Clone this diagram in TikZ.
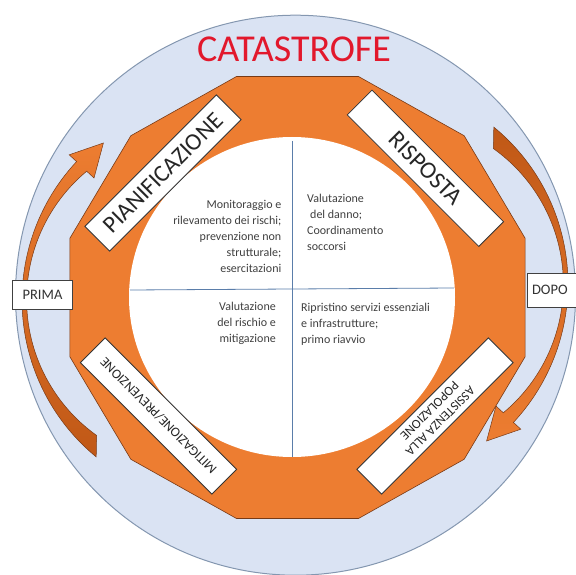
\documentclass[tikz,border=0pt]{standalone}
\usepackage{fontspec}
\setmainfont{Carlito}
\definecolor{bluefill}{RGB}{218,227,243}
\definecolor{blueline}{RGB}{132,151,176}
\definecolor{orangefill}{RGB}{237,125,49}
\definecolor{orangedark}{RGB}{192,88,22}
\definecolor{orangeline}{RGB}{120,58,22}
\definecolor{divline}{RGB}{90,125,170}
\definecolor{txtgray}{RGB}{64,64,64}
\definecolor{catred}{RGB}{226,24,44}
\tikzset{
  labelbox/.style={draw=black!80, fill=white, line width=0.8pt, minimum width=186pt,
    minimum height=35pt, inner sep=0pt, text=black!85, align=center},
  quadtext/.style={font=\fontsize{12}{16}\selectfont, text=txtgray, inner sep=0pt},
  sidebox/.style={draw=black!75, fill=white, line width=0.7pt, minimum height=29pt,
    inner sep=0pt, text=black!80, font=\fontsize{14.5}{17}\selectfont},
  arrowshape/.style={draw=orangeline, line width=0.5pt}
}
\begin{document}
\begin{tikzpicture}[x=1pt,y=1pt]
\useasboundingbox (0,0) rectangle (576,-575);
\clip (0,0) rectangle (576,-575);
% big circle
\draw[blueline, fill=bluefill, line width=1pt] (295.5,-295.2) circle (280);
% left curved arrow (PRIMA)
\shade[arrowshape, top color=orangefill, middle color=orangefill, bottom color=orangedark]
  (96.2,-456.9) arc[start angle=230.6, end angle=137, radius=203]
  -- (69.2,-154.8) -- (103.4,-143.0) -- (94.0,-178.0) -- (86.7,-171.2)
  arc[start angle=129.8, end angle=234.5, radius=167] -- cycle;
% right curved arrow (DOPO)
\shade[arrowshape, top color=orangedark, middle color=orangefill, bottom color=orangefill]
  (493.8,-127.1) arc[start angle=50.6, end angle=-43, radius=203]
  -- (520.8,-429.2) -- (486.6,-441.0) -- (496.0,-406.0) -- (503.3,-412.8)
  arc[start angle=-50.2, end angle=54.5, radius=167] -- cycle;
% orange dodecagon
\begin{scope}[shift={(297.5,-297.5)}, xscale=1.03]
\draw[fill=orangefill, draw=orangeline, line width=0.6pt]
  (15:228.8) \foreach \a in {45,75,...,345}{ -- (\a:228.8)} -- cycle;
\end{scope}
% white inner circle
\fill[white] (292,-297) ellipse [x radius=163, y radius=160];
% dividers
\draw[divline, line width=0.8pt] (292,-141) -- (292,-457);
\draw[divline, line width=0.8pt] (130,-290) -- (454,-288);
% quadrant texts
\node[quadtext, align=right, anchor=north east] (tl) at (281.5,-200)
  {Monitoraggio e\\rilevamento dei rischi;\\prevenzione non\\strutturale;\\esercitazioni};
\node[quadtext, align=left, anchor=north west] (tr) at (307,-194)
  {Valutazione\\\hspace*{3pt}del danno;\\Coordinamento\\soccorsi};
\node[quadtext, align=right, anchor=north east] (bl) at (276,-302)
  {Valutazione\\del rischio e\\mitigazione};
\node[quadtext, align=left, anchor=north west] (br) at (301,-302.5)
  {Ripristino servizi essenziali\\e infrastrutture;\\primo riavvio};
% label boxes
\node[labelbox, rotate=45, font=\fontsize{24}{28}\selectfont] (pian) at (163,-173) {PIANIFICAZIONE};
\node[labelbox, rotate=-45, font=\fontsize{24}{28}\selectfont] (risp) at (425.4,-168.3) {RISPOSTA};
\node[labelbox, rotate=135, font=\fontsize{13.5}{16}\selectfont] (mitig) at (158.5,-416) {MITIGAZIONE/PREVENZIONE};
\node[labelbox, rotate=225, font=\fontsize{13}{15}\selectfont] (assist) at (435,-416) {ASSISTENZA ALLA\\POPOLAZIONE};
% side boxes
\node[sidebox, minimum width=60pt] (prima) at (42.5,-295) {PRIMA};
\node[sidebox, minimum width=60pt, minimum height=34pt, text width=50pt, align=left] (dopo) at (557,-290) {DOPO};
% title
\node[font=\fontsize{38}{40}\selectfont, text=catred, inner sep=0pt] (cat) at (294,-49) {CATASTROFE};
\end{tikzpicture}
\end{document}
